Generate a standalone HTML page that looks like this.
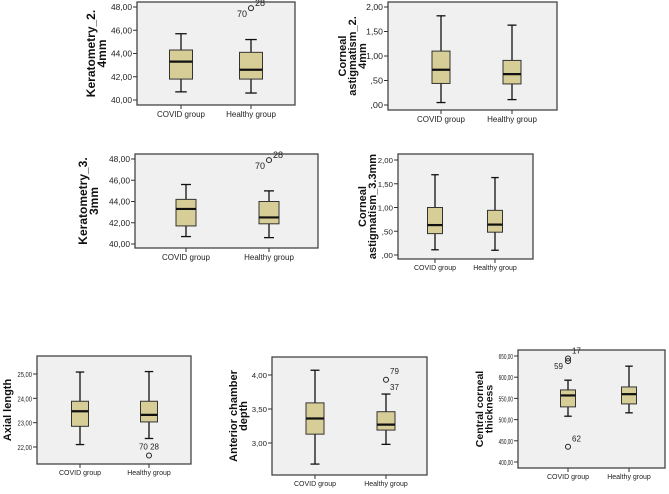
<!DOCTYPE html>
<html><head><meta charset="utf-8"><style>
body{margin:0;background:#fff;width:669px;height:489px;overflow:hidden}
svg{font-family:"Liberation Sans",sans-serif}
</style></head><body>
<svg id="c" width="669" height="489" xmlns="http://www.w3.org/2000/svg"></svg>
<script>
const categories=["COVID group","Healthy group"];
// five-number summaries: [min, q1, median, q3, max]
const k2Covid=[40.7,41.8,43.3,44.3,45.7];
const k2Healthy=[40.6,41.8,42.6,44.1,45.2];
const k2Out=[[1,47.9,"28"],[1,47.9,"70"]];
const ca2Covid=[0.05,0.44,0.72,1.10,1.82];
const ca2Healthy=[0.11,0.43,0.63,0.91,1.63];
const k3Covid=[40.7,41.7,43.3,44.2,45.6];
const k3Healthy=[40.6,41.9,42.5,44.0,45.0];
const k3Out=[[1,47.9,"28"],[1,47.9,"70"]];
const ca3Covid=[0.11,0.45,0.63,1.00,1.69];
const ca3Healthy=[0.10,0.48,0.64,0.94,1.63];
const alCovid=[22.1,22.85,23.47,23.88,25.08];
const alHealthy=[22.35,23.03,23.32,23.88,25.1];
const alOut=[[1,21.65,"70 28"]];
const acdCovid=[2.69,3.13,3.36,3.59,4.07];
const acdHealthy=[2.98,3.19,3.27,3.46,3.72];
const acdOut=[[1,3.93,"79"],[1,3.93,"37"]];
const cctCovid=[508,530,557,570,593];
const cctHealthy=[516,537,560,577,626];
const cctOut=[[0,644,"17"],[0,638,"59"],[0,436,"62"]];
const kTicks=[40,42,44,46,48];
const caTicks=[0,0.5,1,1.5,2];
const alTicks=[22,23,24,25];
const acdTicks=[3,3.5,4];
const cctTicks=[400,450,500,550,600,650];

// label placement per outlier label (style only)
const labelPos={"28":[4,-2,"start",true],"70":[-4,9,"end",false],"70 28":[0,-6,"middle",true],"79":[4,-6,"start",true],"37":[4,10,"start",false],"17":[4,-5,"start",true],"59":[-5,8,"end",true],"62":[4,-5,"start",true]};

const NS="http://www.w3.org/2000/svg";
const svg=document.getElementById("c");
function el(t,a,p){const e=document.createElementNS(NS,t);for(const k in a)e.setAttribute(k,a[k]);(p||svg).appendChild(e);return e;}
function fmt(v){let s=v.toFixed(2).replace(".",",");if(s.startsWith("0,"))s=s.slice(1);return s;}

function chart(cfg){
  const g=el("g",{});
  
  
  const f=el("rect",{x:cfg.x0,y:cfg.y0,width:cfg.x1-cfg.x0,height:cfg.y1-cfg.y0,fill:"#f0f0f0",stroke:"#444","stroke-width":1.3},g);
  
  
  const Y=v=>cfg.ty0+(v-cfg.v0)/(cfg.v1-cfg.v0)*(cfg.ty1-cfg.ty0);
  cfg.ticks.forEach(t=>{
    el("line",{x1:cfg.x0-4,x2:cfg.x0,y1:Y(t),y2:Y(t),stroke:"#333"},g);
    const s=fmt(t);
    const tx=el("text",{x:cfg.x0-5,y:Y(t)+3,"font-size":cfg.fs,"text-anchor":"end",fill:"#222",textLength:s.length*cfg.cw,lengthAdjust:"spacingAndGlyphs"},g);
    tx.textContent=s;
    
    
  });
  const n=cfg.title.length;
  const yt=el("text",{transform:`translate(${cfg.tx},${(cfg.y0+cfg.y1)/2}) rotate(-90)`,"font-size":cfg.tfs,"font-weight":"bold","text-anchor":"middle",fill:"#111"},g);
  
  
  cfg.title.forEach((l,i)=>{const s=el("tspan",{x:0,y:(i-(n-1)/2)*cfg.tfs*0.92+cfg.tfs*0.36},yt);s.textContent=l;});
  [cfg.a,cfg.b].forEach((d,i)=>{
    const cx=cfg.cx[i],w=cfg.bw;
    el("line",{x1:cx,x2:cx,y1:cfg.y1,y2:cfg.y1+4,stroke:"#333"},g);
    const lb=el("text",{x:cx,y:cfg.y1+cfg.ly,"font-size":cfg.fs,"text-anchor":"middle",fill:"#222"},g);
    lb.textContent=categories[i];
    
    
    const bg=el("g",{},g);
    
    
    el("line",{x1:cx,x2:cx,y1:Y(d[0]),y2:Y(d[4]),stroke:"#111","stroke-width":1.3},bg);
    el("line",{x1:cx-w/4,x2:cx+w/4,y1:Y(d[0]),y2:Y(d[0]),stroke:"#111","stroke-width":1.3},bg);
    el("line",{x1:cx-w/4,x2:cx+w/4,y1:Y(d[4]),y2:Y(d[4]),stroke:"#111","stroke-width":1.3},bg);
    el("rect",{x:cx-w/2,y:Y(d[3]),width:w,height:Y(d[1])-Y(d[3]),fill:"#d6cd97",stroke:"#333","stroke-width":1},bg);
    el("line",{x1:cx-w/2,x2:cx+w/2,y1:Y(d[2]),y2:Y(d[2]),stroke:"#111","stroke-width":2.2},bg);
  });
  (cfg.out||[]).forEach(o=>{
    const cx=cfg.cx[o[0]],y=Y(o[1]);
    const p=labelPos[o[2]]||[4,-2,"start",true];
    if(p[3]){
      const c=el("circle",{cx:cx,cy:y,r:2.5,fill:"none",stroke:"#222"},g);
      
      
    }
    const t=el("text",{x:cx+p[0],y:y+p[1],"font-size":cfg.fs+1,"text-anchor":p[2],fill:"#222"},g);
    t.textContent=o[2];
    
    
  });
}
chart({name:"keratometry-2-4mm-chart",x0:137,x1:295,y0:2,y1:105,ty0:100,ty1:7,v0:40,v1:48,ticks:kTicks,cx:[181,251],bw:23,a:k2Covid,b:k2Healthy,out:k2Out,title:["Keratometry_2.","4mm"],tx:96,fs:8,cw:4.2,tfs:12,ly:12});
chart({name:"corneal-astigmatism-2-4mm-chart",x0:388,x1:557,y0:2,y1:110,ty0:105,ty1:7,v0:0,v1:2,ticks:caTicks,cx:[441,512],bw:18,a:ca2Covid,b:ca2Healthy,title:["Corneal","astigmatism_2.","4mm"],tx:352,fs:8,cw:4.2,tfs:11,ly:12});
chart({name:"keratometry-3-3mm-chart",x0:135,x1:318,y0:154,y1:248,ty0:244,ty1:159,v0:40,v1:48,ticks:kTicks,cx:[186,269],bw:20,a:k3Covid,b:k3Healthy,out:k3Out,title:["Keratometry_3.","3mm"],tx:88,fs:8,cw:4.2,tfs:12,ly:12});
chart({name:"corneal-astigmatism-3-3mm-chart",x0:398,x1:533,y0:154,y1:259,ty0:255,ty1:160,v0:0,v1:2,ticks:caTicks,cx:[435,495],bw:15,a:ca3Covid,b:ca3Healthy,title:["Corneal","astigmatism_3.3mm"],tx:367,fs:7,cw:3.8,tfs:11,ly:11});
chart({name:"axial-length-chart",x0:37,x1:191,y0:356,y1:464,ty0:447,ty1:374,v0:22,v1:25,ticks:alTicks,cx:[80,149],bw:17,a:alCovid,b:alHealthy,out:alOut,title:["Axial length"],tx:7,fs:7,cw:2.9,tfs:11,ly:11});
chart({name:"anterior-chamber-depth-chart",x0:272,x1:427,y0:357,y1:475,ty0:443,ty1:375,v0:3,v1:4,ticks:acdTicks,cx:[315,386],bw:18,a:acdCovid,b:acdHealthy,out:acdOut,title:["Anterior chamber","depth"],tx:238,fs:7,cw:3.8,tfs:11,ly:11});
chart({name:"central-corneal-thickness-chart",x0:518,x1:665,y0:350,y1:468,ty0:462,ty1:356,v0:400,v1:650,ticks:cctTicks,cx:[568,629],bw:15,a:cctCovid,b:cctHealthy,out:cctOut,title:["Central corneal","thickness"],tx:484,fs:7,cw:2.4,tfs:10.5,ly:11});
</script>
</body></html>
